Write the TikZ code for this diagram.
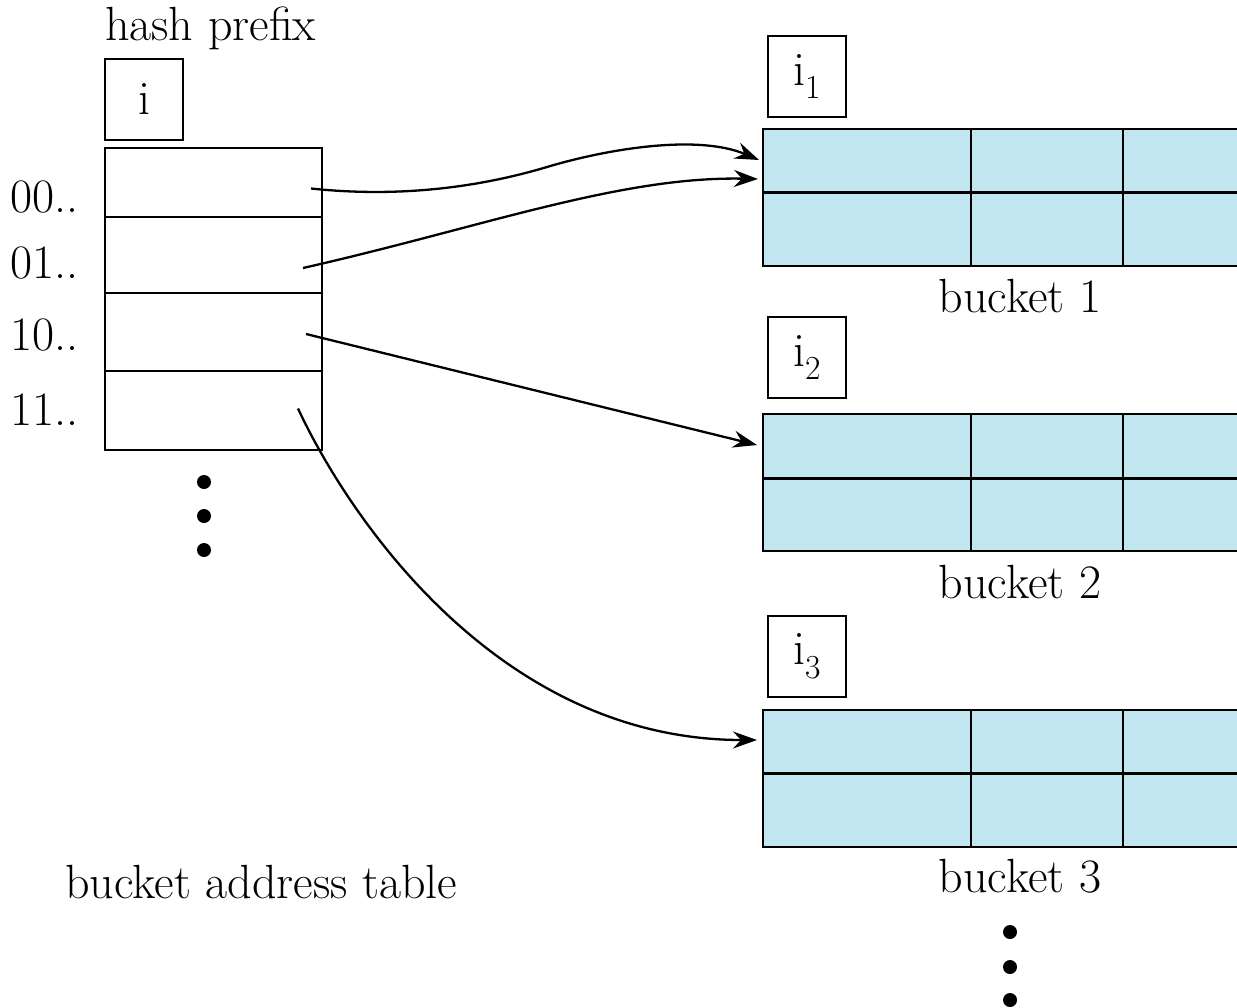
\documentclass[tikz,border=0pt]{standalone}
\usepackage{tikz}
\usetikzlibrary{positioning, shapes, arrows.meta}
\definecolor{bucketblue}{RGB}{194,230,240}

\begin{document}
\begin{tikzpicture}[x=1pt, y=-1pt, font=\fontsize{48}{56}\selectfont,
  cellbox/.style={draw, line width=2.6pt, rectangle, outer sep=0pt, inner sep=0pt, minimum width=217pt},
  prefixbox/.style={draw, line width=2.6pt, outer sep=0pt, inner sep=0pt, minimum width=78pt, minimum height=81pt},
  bucketbox/.style={draw, line width=2.8pt, fill=bucketblue, outer sep=0pt, inner sep=0pt, minimum width=520pt, minimum height=137pt, anchor=north west},
  pointer/.style={line width=2.3pt, -{Stealth[length=24pt, width=17pt, inset=8pt]}},
  dot/.style={fill, circle, inner sep=0pt, minimum size=14pt},
  txt/.style={inner sep=0pt}]
\clip (0,0) rectangle (1237,1007);

% bucket address table
\node (hp) [txt, anchor=base west] at (105,40) {hash prefix};
\node (r00) [cellbox, minimum height=69pt, anchor=north west] at (105,148) {};
\node (r01) [cellbox, minimum height=76pt, below=0pt of r00] {};
\node (r10) [cellbox, minimum height=78pt, below=0pt of r01] {};
\node (r11) [cellbox, minimum height=79pt, below=0pt of r10] {};
\node (pi) [prefixbox, above=8pt of r00.north west, anchor=south west] {i};
\node (l00) [txt, anchor=base west] at (10,212) {00..};
\node (l01) [txt, anchor=base west] at (10,278) {01..};
\node (l10) [txt, anchor=base west] at (10,350) {10..};
\node (l11) [txt, anchor=base west] at (10,425) {11..};
\node (d1) [dot] at (204,482) {};
\node (d2) [dot] at (204,516) {};
\node (d3) [dot] at (204,550) {};
\node (bat) [txt, anchor=base west] at (65,898) {bucket address table};

% buckets
\node (b1) [bucketbox] at (763,129) {};
\draw [line width=2.8pt] ([yshift=5pt]b1.west) -- ([yshift=5pt]b1.east)
  ([xshift=208pt]b1.north west) -- ([xshift=208pt]b1.south west)
  ([xshift=360pt]b1.north west) -- ([xshift=360pt]b1.south west);
\node (p1) [prefixbox, above=12pt of b1.north west, anchor=south west, xshift=5pt] {i\textsubscript{1}};
\node (bl1) [txt, anchor=base] at (1020,312) {bucket 1};

\node (b2) [bucketbox] at (763,414) {};
\draw [line width=2.8pt] ([yshift=4pt]b2.west) -- ([yshift=4pt]b2.east)
  ([xshift=208pt]b2.north west) -- ([xshift=208pt]b2.south west)
  ([xshift=360pt]b2.north west) -- ([xshift=360pt]b2.south west);
\node (p2) [prefixbox, above=16pt of b2.north west, anchor=south west, xshift=5pt] {i\textsubscript{2}};
\node (bl2) [txt, anchor=base] at (1020,598) {bucket 2};

\node (b3) [bucketbox] at (763,710) {};
\draw [line width=2.8pt] ([yshift=5pt]b3.west) -- ([yshift=5pt]b3.east)
  ([xshift=208pt]b3.north west) -- ([xshift=208pt]b3.south west)
  ([xshift=360pt]b3.north west) -- ([xshift=360pt]b3.south west);
\node (p3) [prefixbox, above=13pt of b3.north west, anchor=south west, xshift=5pt] {i\textsubscript{3}};
\node (bl3) [txt, anchor=base] at (1020,892) {bucket 3};
\node (e1) [dot] at (1010,932) {};
\node (e2) [dot] at (1010,967) {};
\node (e3) [dot] at (1010,1000) {};

% pointers
\draw [pointer] ([xshift=-11pt,yshift=-6pt]r00.east) .. controls (400,198) and (480,187) .. (547,167)
  .. controls (614,147) and (700,135) .. ([xshift=-4pt,yshift=-31pt]b1.north west);
\draw [pointer] ([xshift=-19pt,yshift=-13pt]r01.east) .. controls (480,228) and (620,176) .. ([xshift=-5pt,yshift=-50pt]b1.north west);
\draw [pointer] ([xshift=-16pt,yshift=-2pt]r10.east) -- ([xshift=-6pt,yshift=-31pt]b2.north west);
\draw [pointer] ([xshift=-24pt,yshift=2pt]r11.east) .. controls (350,520) and (500,740) .. ([xshift=-6pt,yshift=-30pt]b3.north west);
\end{tikzpicture}
\end{document}
